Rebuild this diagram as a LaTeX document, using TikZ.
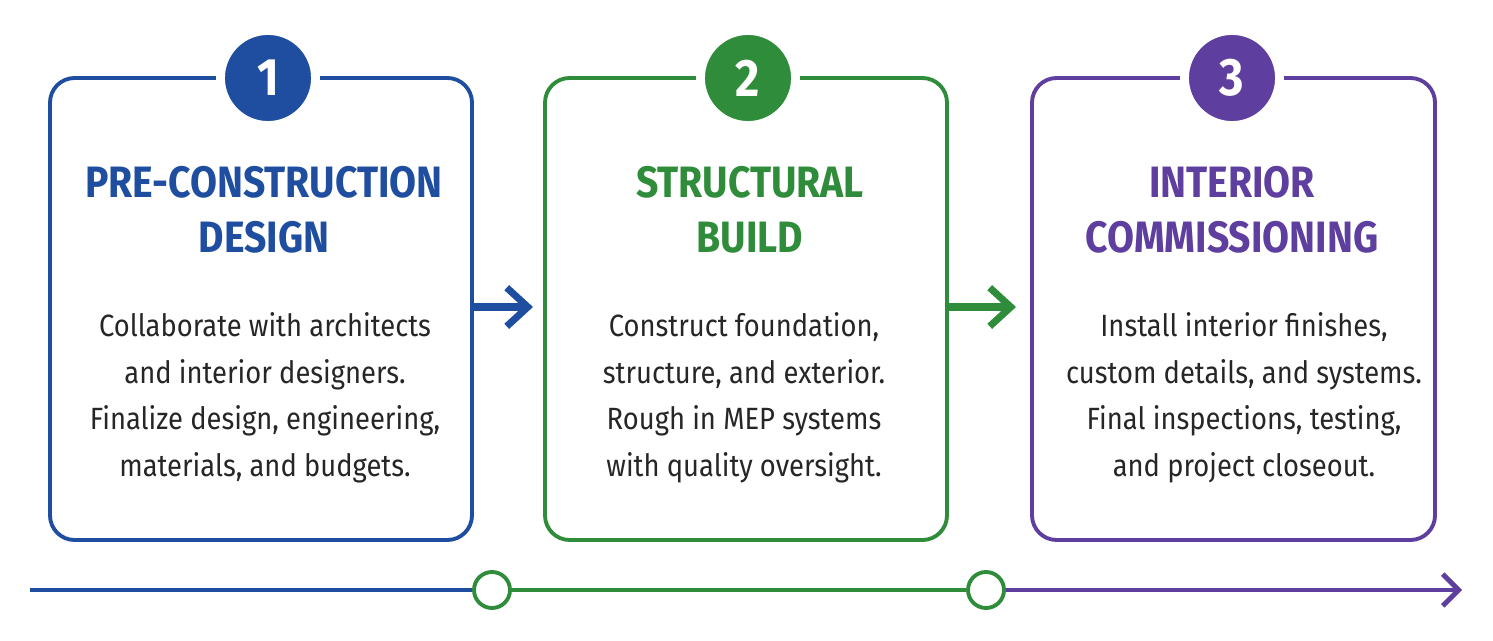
\documentclass[tikz,border=0pt]{standalone}
\usepackage{fontspec}
\setmainfont{Fira Sans}[FakeStretch=0.89]
\usetikzlibrary{arrows.meta, calc}
\definecolor{stepblue}{HTML}{1F4EA0}
\definecolor{stepgreen}{HTML}{2F8C3A}
\definecolor{steppurple}{HTML}{5E3E9E}
\tikzset{
  card/.style={draw=#1, line width=2.2pt, rounded corners=14pt},
  badge/.style={circle, fill=#1, draw=white, line width=5pt, minimum size=1.9cm,
    text=white, font=\fontsize{30}{30}\selectfont\bfseries},
  title/.style={text=#1, align=center, font=\fontsize{25}{31}\selectfont\bfseries},
  body/.style={text=black!85, align=center, font=\fontsize{17.5}{26.5}\selectfont},
  stop/.style={circle, draw=stepgreen, fill=white, line width=2.2pt, minimum size=0.72cm, inner sep=0pt},
  hop/.style={-{Straight Barb[length=12pt, width=22pt, line width=4pt]}, line width=4.5pt},
}
\begin{document}
\begin{tikzpicture}[x=0.02cm, y=-0.02cm, >=Stealth]
    \fill[white] (0,0) rectangle (1493,641);
    \useasboundingbox (0,0) rectangle (1493,641);

    % step cards
    \draw[card=stepblue]   (50,78)  rectangle (472,540);
    \draw[card=stepgreen]  (545,78) rectangle (947,540);
    \draw[card=steppurple] (1032,78) rectangle (1435,540);

    \node[badge=stepblue]   (one)   at (268,78)  {1};
    \node[badge=stepgreen]  (two)   at (748,78)  {2};
    \node[badge=steppurple] (three) at (1232,78) {3};

    \node[title=stepblue]   (title1) at (264,210)  {PRE-CONSTRUCTION\\DESIGN};
    \node[title=stepgreen]  (title2) at (750,210)  {STRUCTURAL\\BUILD};
    \node[title=steppurple] (title3) at (1232,210) {INTERIOR\\COMMISSIONING};

    \node[body] (text1) at (265,398) {Collaborate with architects\\and interior designers.\\Finalize design, engineering,\\materials, and budgets.};
    \node[body] (text2) at (744,398) {Construct foundation,\\structure, and exterior.\\Rough in MEP systems\\with quality oversight.};
    \node[body] (text3) at (1244,398) {Install interior finishes,\\custom details, and systems.\\Final inspections, testing,\\and project closeout.};

    % arrows between cards
    \coordinate (a1) at (474,307);
    \coordinate (b1) at (533,307);
    \coordinate (a2) at (949,307);
    \coordinate (b2) at (1016,307);
    \draw[hop, stepblue]  (a1) -- (b1);
    \draw[hop, stepgreen] (a2) -- (b2);

    % timeline
    \coordinate (start) at (30,590);
    \coordinate (end)   at (1462,590);
    \node[stop] (stop1) at (492,590) {};
    \node[stop] (stop2) at (986,590) {};
    \draw[stepblue, line width=2.8pt]   (start) -- (stop1);
    \draw[stepgreen, line width=2.8pt]  (stop1) -- (stop2);
    \draw[-{Straight Barb[length=9pt, width=18pt, line width=2.8pt]}, steppurple, line width=2.8pt] (stop2) -- (end);
\end{tikzpicture}
\end{document}
